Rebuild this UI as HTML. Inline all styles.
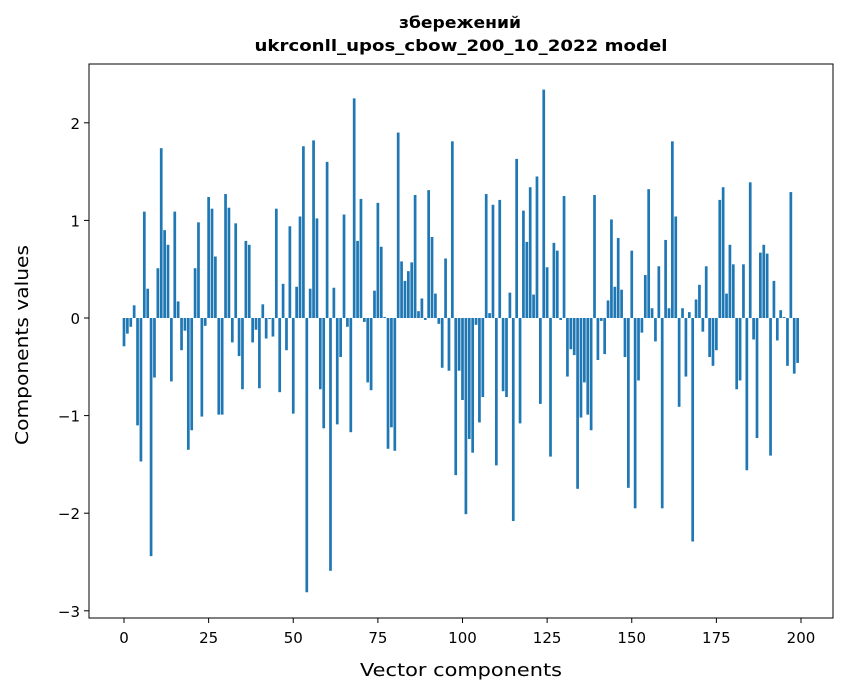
<!DOCTYPE html>
<html><head><meta charset="utf-8"><style>
body{margin:0;background:#fff;}
svg{display:block;font-family:"DejaVu Sans","Liberation Sans",sans-serif;}
</style></head><body>
<svg id="chart" width="847" height="696" viewBox="0 0 847 696">
<rect width="847" height="696" fill="#fff"/>
<text x="460" y="28" text-anchor="middle" font-size="16" font-weight="bold" textLength="122" lengthAdjust="spacingAndGlyphs">збережений</text>
<text x="461" y="51" text-anchor="middle" font-size="16" font-weight="bold" textLength="413" lengthAdjust="spacingAndGlyphs">ukrconll_upos_cbow_200_10_2022 model</text>
<g id="bars"></g>
<g id="xticks"></g>
<g id="yticks"></g>
<rect x="89" y="64" width="744" height="554" fill="none" stroke="#000" stroke-width="1"/>
<text x="461" y="676" text-anchor="middle" font-size="18" textLength="202" lengthAdjust="spacingAndGlyphs">Vector components</text>
<text transform="translate(28,345) rotate(-90)" text-anchor="middle" font-size="18" textLength="200" lengthAdjust="spacingAndGlyphs">Components values</text>
</svg>
<script>
const values = [-0.29,-0.16,-0.09,0.13,-1.10,-1.47,1.09,0.30,-2.44,-0.61,0.51,1.74,0.90,0.75,-0.65,1.09,0.17,-0.33,-0.13,-1.35,
-1.15,0.51,0.98,-1.01,-0.08,1.24,1.12,0.63,-0.99,-0.99,1.27,1.13,-0.25,0.97,-0.39,-0.73,0.79,0.75,-0.25,-0.12,
-0.72,0.14,-0.21,-0.01,-0.19,1.12,-0.76,0.35,-0.33,0.94,-0.98,0.32,1.04,1.76,-2.81,0.30,1.82,1.02,-0.73,-1.13,
1.60,-2.59,0.31,-1.09,-0.40,1.06,-0.09,-1.17,2.25,0.79,1.22,-0.04,-0.66,-0.74,0.28,1.18,0.73,0.01,-1.34,-1.12,
-1.36,1.90,0.58,0.38,0.48,0.57,1.26,0.07,0.20,-0.02,1.31,0.83,0.25,-0.06,-0.51,0.61,-0.54,1.81,-1.61,-0.54,
-0.84,-2.01,-1.24,-1.38,-0.07,-1.07,-0.81,1.27,0.05,1.16,-1.51,1.21,-0.75,-0.81,0.26,-2.08,1.63,-1.08,1.10,0.78,
1.34,0.24,1.45,-0.88,2.34,0.52,-1.42,0.77,0.69,-0.02,1.25,-0.60,-0.32,-0.38,-1.75,-1.02,-0.66,-0.99,-1.15,1.26,
-0.43,-0.03,-0.37,0.18,1.01,0.32,0.82,0.29,-0.40,-1.74,0.69,-1.95,-0.64,-0.15,0.44,1.32,0.10,-0.24,0.53,-1.95,
0.80,0.10,1.81,1.04,-0.91,0.10,-0.60,0.06,-2.29,0.19,0.34,-0.14,0.53,-0.40,-0.49,-0.33,1.21,1.34,0.25,0.75,
0.55,-0.73,-0.64,0.55,-1.56,1.39,-0.22,-1.23,0.67,0.75,0.66,-1.41,0.38,-0.23,0.08,0.01,-0.49,1.29,-0.57,-0.46];
const xTickValues = [0,25,50,75,100,125,150,175,200];
const yTickValues = [2,1,0,-1,-2,-3];

const NS = "http://www.w3.org/2000/svg";
function xScale(v){ return 124 + v * 3.385; }
function yScale(v){ return 318 - v * 97.6; }
const barW = 0.8 * 3.385;

const bars = document.getElementById('bars');
values.forEach((v, i) => {
  const r = document.createElementNS(NS, 'rect');
  const y0 = yScale(0), y1 = yScale(v);
  r.setAttribute('x', xScale(i) - barW / 2);
  r.setAttribute('y', Math.min(y0, y1));
  r.setAttribute('width', barW);
  r.setAttribute('height', Math.abs(y1 - y0));
  r.setAttribute('fill', '#1f77b4');
  
  
  bars.appendChild(r);
});

const xt = document.getElementById('xticks');
xTickValues.forEach(t => {
  const x = xScale(t);
  const l = document.createElementNS(NS, 'line');
  l.setAttribute('x1', x); l.setAttribute('x2', x);
  l.setAttribute('y1', 618); l.setAttribute('y2', 623);
  l.setAttribute('stroke', '#000');
  
  
  xt.appendChild(l);
  const tx = document.createElementNS(NS, 'text');
  tx.setAttribute('x', x); tx.setAttribute('y', 643);
  tx.setAttribute('text-anchor', 'middle');
  tx.setAttribute('font-size', '15');
  
  
  tx.textContent = String(t);
  xt.appendChild(tx);
});

const yt = document.getElementById('yticks');
yTickValues.forEach(t => {
  const y = yScale(t);
  const l = document.createElementNS(NS, 'line');
  l.setAttribute('x1', 84); l.setAttribute('x2', 89);
  l.setAttribute('y1', y); l.setAttribute('y2', y);
  l.setAttribute('stroke', '#000');
  
  
  yt.appendChild(l);
  const tx = document.createElementNS(NS, 'text');
  tx.setAttribute('x', 80); tx.setAttribute('y', y + 6);
  tx.setAttribute('text-anchor', 'end');
  tx.setAttribute('font-size', '15');
  
  
  tx.textContent = t < 0 ? '\u2212' + Math.abs(t) : String(t);
  yt.appendChild(tx);
});
</script>
</body></html>
